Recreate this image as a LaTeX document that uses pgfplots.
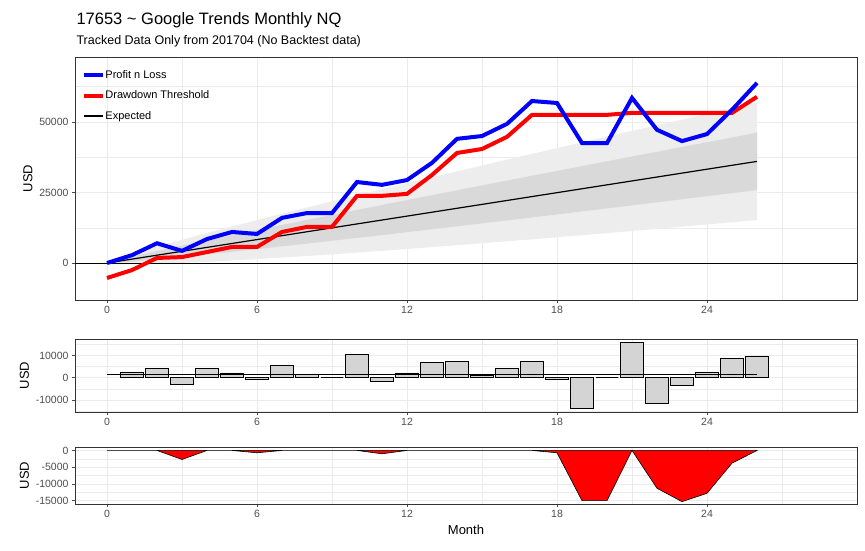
\documentclass[border=0pt]{standalone}
\usepackage{pgfplots}
\pgfplotsset{compat=1.18}
\usepackage{fontspec}
\setmainfont{Liberation Sans}
\definecolor{gridc}{HTML}{EBEBEB}
\definecolor{tickc}{HTML}{4D4D4D}
\pgfplotsset{
  gg/.style={
    scale only axis, width=782pt,
    xmin=-1.28, xmax=30,
    xtick={0,6,12,18,24}, minor xtick={3,9,15,21,27},
    grid=both, major grid style={gridc, line width=0.8pt}, minor grid style={gridc, line width=0.4pt},
    axis line style={black!80, line width=0.8pt},
    tick align=outside, tick pos=left, major tick length=3pt, minor tick length=0pt,
    tick style={black!70, line width=0.6pt},
    ticklabel style={font=\fontsize{10.5}{12}\selectfont, text=tickc},
    /pgf/number format/assume math mode=true,
    /pgf/number format/1000 sep={},
    scaled ticks=false,
    ylabel={USD}, ylabel style={font=\fontsize{13}{14}\selectfont},
    every axis ylabel/.append style={at={(ticklabel cs:0.5)}, yshift=-2pt},
  }
}
\begin{document}
\begin{tikzpicture}[x=1pt,y=1pt]
\path (0,0) rectangle (865,551);
\node[anchor=base west, font=\fontsize{16.5}{18}\selectfont] at (73,526) {17653 \textasciitilde{} Google Trends Monthly NQ};
\node[anchor=base west, font=\fontsize{12.5}{14}\selectfont] at (73,506) {Tracked Data Only from 201704 (No Backtest data)};

\begin{axis}[gg, at={(75pt,251pt)}, anchor=south west, height=243pt,
  ymin=-13100, ymax=73000, ytick={0,25000,50000}, minor ytick={12500,37500,62500},
  legend style={at={(0.008,0.95)}, anchor=north west, draw=none, fill=none,
    font=\fontsize{11}{13}\selectfont, row sep=11pt, inner sep=1pt,
    nodes={inner sep=0pt}},
  legend image code/.code={\draw[#1] (0pt,0pt) -- (19pt,0pt);},
  legend cell align=left]
\addlegendimage{blue, line width=4pt}\addlegendentry{Profit n Loss}
\addlegendimage{red, line width=4pt}\addlegendentry{Drawdown Threshold}
\addlegendimage{black, line width=1.2pt}\addlegendentry{Expected}
\addplot[fill=black!7, draw=none, forget plot] coordinates {
(0,500)(1,3195)(2,5810)(4,10660)(6,15240)(9,21875)(12,28290)(16,36640)(20,44820)(26,56810)
(26,15210)(20,10580)(16,7680)(12,4950)(9,3055)(6,1380)(4,420)(2,-270)(1,-425)(0,-500)} -- cycle;
\addplot[fill=black!15, draw=none, forget plot] coordinates {
(0,200)(1,2268)(2,4250)(4,8040)(6,11690)(9,17055)(12,22320)(16,29220)(20,36050)(26,46160)
(26,25860)(20,19350)(16,15100)(12,10920)(9,7875)(6,4930)(4,3040)(2,1290)(1,502)(0,-200)} -- cycle;
\addplot[black, line width=0.8pt, forget plot] coordinates {(-1.28,0)(30,0)};
\addplot[black, line width=1.2pt, forget plot] coordinates {(0,0)(26,36010)};
\addplot[red, line width=4pt, forget plot] coordinates {
(0,-5300)(1,-2500)(2,1800)(3,2100)(4,3900)(5,5700)(6,5700)(7,11000)(8,12800)(9,12800)(10,23800)(11,23800)(12,24500)(13,31200)(14,39000)(15,40400)(16,44700)(17,52500)(18,52500)(19,52500)(20,52500)(21,53200)(22,53200)(23,53200)(24,53200)(25,53200)(26,58900)};
\addplot[blue, line width=4pt, forget plot] coordinates {
(0,0)(1,2800)(2,7000)(3,4300)(4,8500)(5,11000)(6,10300)(7,16000)(8,17700)(9,17700)(10,28700)(11,27700)(12,29400)(13,35500)(14,44000)(15,45000)(16,49300)(17,57400)(18,56700)(19,42500)(20,42500)(21,58500)(22,47200)(23,43200)(24,45700)(25,54300)(26,63800)};
\end{axis}

\begin{axis}[gg, at={(75pt,139pt)}, anchor=south west, height=73pt,
  ymin=-15400, ymax=17400, ytick={-10000,0,10000}, minor ytick={-15000,-5000,5000,15000}]
\addplot[ybar, bar width=0.9, fill=black!17, draw=black, line width=0.6pt] coordinates {
(1,2600)(2,4300)(3,-3000)(4,4300)(5,2200)(6,-500)(7,5400)(8,1700)(9,0)(10,10400)(11,-1400)(12,2200)(13,7000)(14,7500)(15,1000)(16,4300)(17,7500)(18,-900)(19,-13900)(20,0)(21,15700)(22,-11700)(23,-3500)(24,2600)(25,8700)(26,9600)};
\addplot[black, line width=1pt] coordinates {(0,1400)(26,1400)};
\end{axis}

\begin{axis}[gg, at={(75pt,47pt)}, anchor=south west, height=57pt,
  ymin=-16000, ymax=1030, ytick={-15000,-10000,-5000,0}, minor ytick={-12500,-7500,-2500},
  xlabel={Month}, xlabel style={font=\fontsize{13}{14}\selectfont}]
\addplot[fill=red, draw=black, line width=0.6pt] coordinates {
(0,0)(1,0)(2,0)(3,-2700)(4,0)(5,0)(6,-700)(7,0)(8,0)(9,0)(10,0)(11,-1000)(12,0)(13,0)(14,0)(15,0)(16,0)(17,0)(18,-700)(19,-15000)(20,-15000)(21,0)(22,-11300)(23,-15300)(24,-12800)(25,-3800)(26,0)} \closedcycle;
\end{axis}
\end{tikzpicture}
\end{document}
